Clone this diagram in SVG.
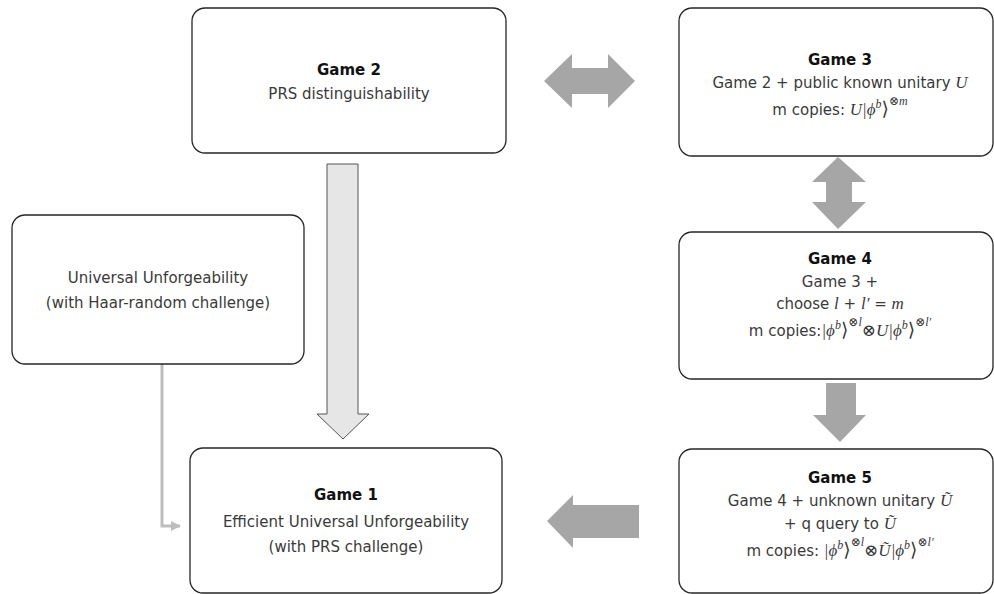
<svg xmlns="http://www.w3.org/2000/svg" width="994" height="594" viewBox="0 0 994 594">
<defs>
<style>
.box{fill:#fff;stroke:#262626;stroke-width:1.3}
.t{font-family:"DejaVu Sans","Liberation Sans",sans-serif;font-size:15px;fill:#3a3a3a;text-anchor:middle}
.b{font-weight:bold;fill:#111}
.m{font-family:"Liberation Serif","DejaVu Serif",serif;font-style:italic;font-size:17px}
.s{font-size:12px}
.k{font-family:"DejaVu Serif","Liberation Serif",serif;font-style:normal;font-size:19px}
.garrow{fill:#a6a6a6}
.big{fill:#e6e6e6;stroke:#555;stroke-width:1}
.conn{fill:none;stroke:#bdbdbd;stroke-width:3}
</style>
<marker id="ah" markerWidth="10" markerHeight="10" refX="9" refY="5" orient="auto" markerUnits="userSpaceOnUse">
<path d="M0,0 L10,5 L0,10 Z" fill="#bdbdbd"/>
</marker>
</defs>

<g id="connectors">
<path class="conn" d="M162,364 V526 H180" marker-end="url(#ah)"/>
<polygon class="garrow" points="544,81 572,54 572,68 608,68 608,54 635,81 608,108 608,94 572,94 572,108"/>
<polygon class="garrow" points="838,157 866,182 852,182 852,202 866,202 838,229 812,202 826,202 826,182 812,182"/>
<polygon class="garrow" points="826,383 856,383 856,415 866,415 840,442 813,415 826,415"/>
<polygon class="garrow" points="547,521 573,495 573,505 639,505 639,538 573,538 573,548"/>
<polygon class="big" points="327,164 358,164 358,414 369,414 343,439 317,414 327,414"/>
</g>

<g id="game2">
<rect class="box" x="192" y="8" width="314" height="145" rx="13"/>
<text class="t b" x="349" y="75">Game 2</text>
<text class="t" x="349" y="99">PRS distinguishability</text>
</g>

<g id="game3">
<rect class="box" x="679" y="8" width="314" height="148" rx="13"/>
<text class="t b" x="840" y="65">Game 3</text>
<text class="t" x="840" y="88">Game 2 + public known unitary <tspan class="m">U</tspan></text>
<text class="t" x="840" y="115">m copies: <tspan class="m">U|ϕ</tspan><tspan class="m s" dy="-7">b</tspan><tspan class="k" dy="7">⟩</tspan><tspan class="m s" dy="-10">⊗m</tspan></text>
</g>

<g id="universal">
<rect class="box" x="12" y="215" width="292" height="149" rx="13"/>
<text class="t" x="158" y="283">Universal Unforgeability</text>
<text class="t" x="158" y="308">(with Haar-random challenge)</text>
</g>

<g id="game4">
<rect class="box" x="679" y="232" width="314" height="147" rx="13"/>
<text class="t b" x="840" y="264">Game 4</text>
<text class="t" x="840" y="287">Game 3 +</text>
<text class="t" x="840" y="309">choose <tspan class="m">l</tspan> + <tspan class="m">l′</tspan> = <tspan class="m">m</tspan></text>
<text class="t" x="840" y="336">m copies:<tspan class="m">|ϕ</tspan><tspan class="m s" dy="-7">b</tspan><tspan class="k" dy="7">⟩</tspan><tspan class="m s" dy="-10">⊗l</tspan><tspan class="m" dy="10">⊗U|ϕ</tspan><tspan class="m s" dy="-7">b</tspan><tspan class="k" dy="7">⟩</tspan><tspan class="m s" dy="-10">⊗l′</tspan></text>
</g>

<g id="game1">
<rect class="box" x="190" y="448" width="312" height="145" rx="13"/>
<text class="t b" x="346" y="500">Game 1</text>
<text class="t" x="346" y="527">Efficient Universal Unforgeability</text>
<text class="t" x="346" y="552">(with PRS challenge)</text>
</g>

<g id="game5">
<rect class="box" x="679" y="449" width="314" height="144" rx="13"/>
<text class="t b" x="840" y="483">Game 5</text>
<text class="t" x="840" y="506">Game 4 + unknown unitary <tspan class="m">Ũ</tspan></text>
<text class="t" x="840" y="529">+ q query to <tspan class="m">Ũ</tspan></text>
<text class="t" x="840" y="556">m copies: <tspan class="m">|ϕ</tspan><tspan class="m s" dy="-7">b</tspan><tspan class="k" dy="7">⟩</tspan><tspan class="m s" dy="-10">⊗l</tspan><tspan class="m" dy="10">⊗Ũ|ϕ</tspan><tspan class="m s" dy="-7">b</tspan><tspan class="k" dy="7">⟩</tspan><tspan class="m s" dy="-10">⊗l′</tspan></text>
</g>
</svg>
